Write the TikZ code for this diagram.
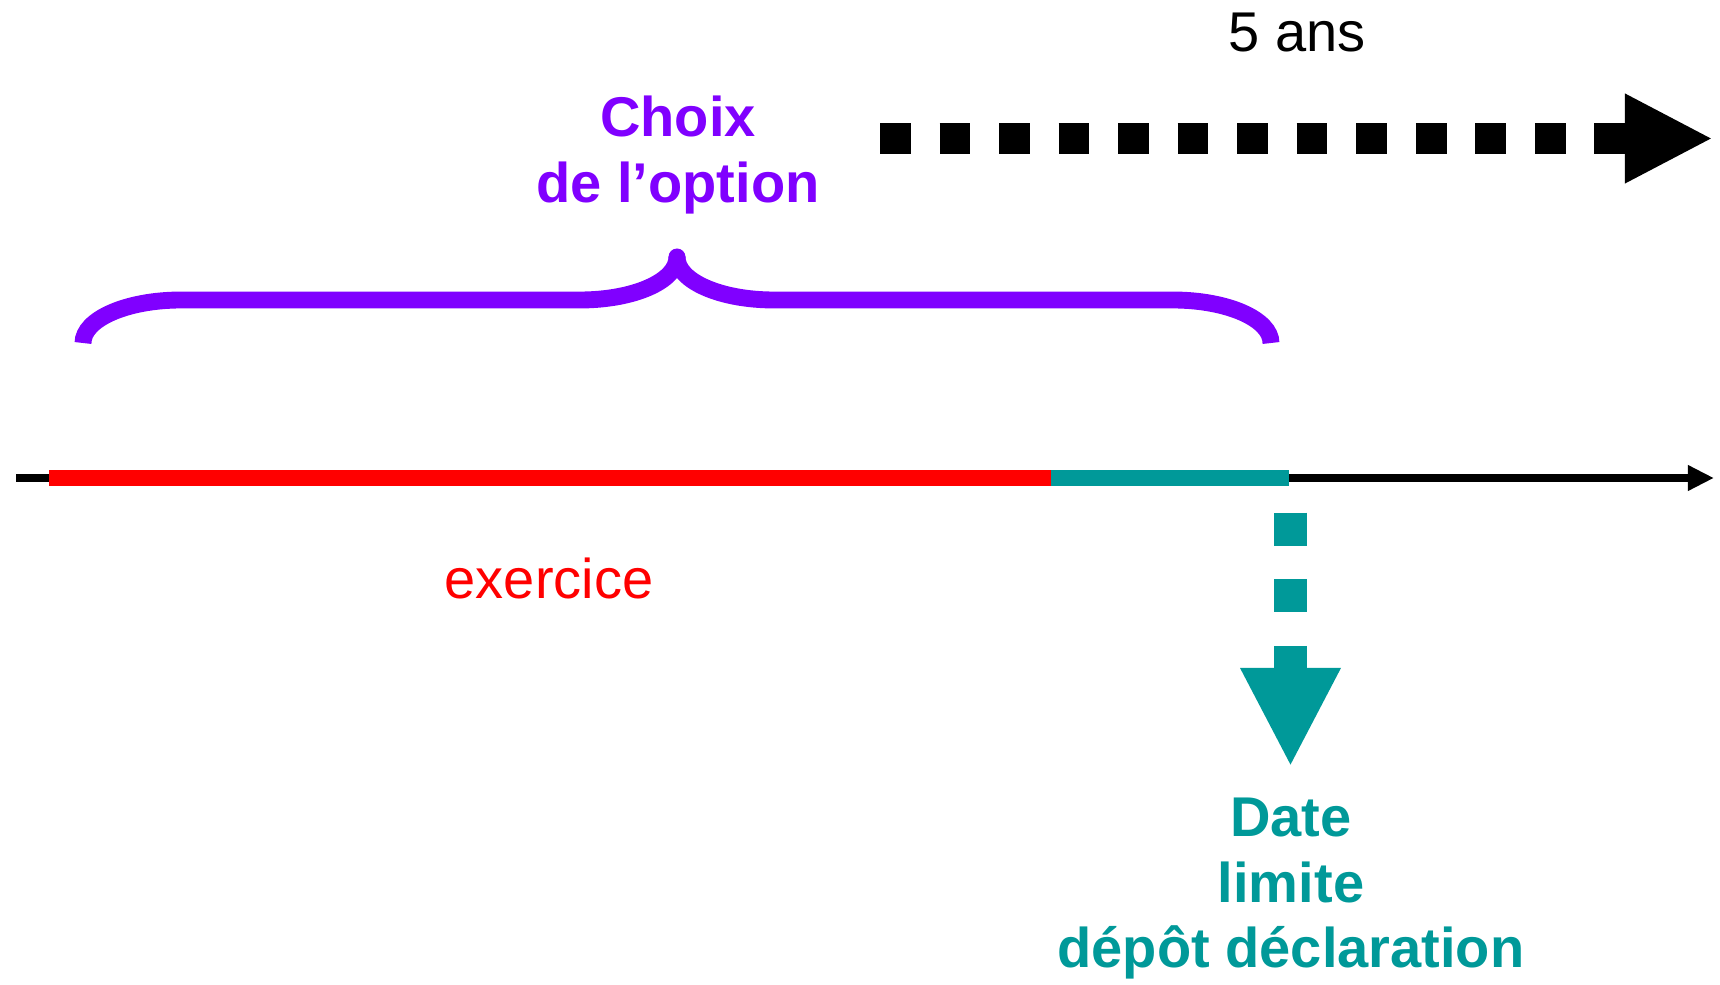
\documentclass[tikz,border=0pt]{standalone}
\usepackage{fontspec}
\setmainfont{Liberation Sans}
\usetikzlibrary{arrows.meta}
\definecolor{optpurple}{RGB}{128,0,255}
\definecolor{dlteal}{RGB}{0,153,153}
\definecolor{exred}{RGB}{255,0,0}
\begin{document}
\begin{tikzpicture}[x=0.01cm,y=-0.01cm,
  lbl/.style={inner sep=0pt,anchor=base,font=\fontsize{15.93pt}{18.7pt}\selectfont},
  boldlbl/.style={lbl,font=\fontsize{15.93pt}{18.7pt}\selectfont\bfseries},
  bracestroke/.style={draw=optpurple,line width=4.8pt,line cap=butt},
  axisline/.style={line width=2.28pt,-{Triangle[length=0.26cm,width=0.24cm]}},
  phase/.style={line width=4.8pt,line cap=butt}]
\useasboundingbox (0,0) rectangle (1720,985);

% time axis and its two phases
\coordinate (axstart) at (16,478);
\coordinate (axend) at (1714,478);
\coordinate (exstart) at (49,478);
\coordinate (exend) at (1051,478);
\coordinate (dlend) at (1289,478);
\draw[axisline] (axstart) -- (axend);
\draw[phase,exred] (exstart) -- (exend);
\draw[phase,dlteal] (exend) -- (dlend);

% labels
\node[lbl] (fiveyears) at (1297,52) {5 ans};
\node[boldlbl,text=optpurple] (choix1) at (678,137) {Choix};
\node[boldlbl,text=optpurple] (choix2) at (678,203) {de l’option};
\node[lbl,text=exred] (exlabel) at (549,598) {exercice};
\node[boldlbl,text=dlteal] (date1) at (1291,836) {Date};
\node[boldlbl,text=dlteal] (date2) at (1291,902) {limite};
\node[boldlbl,text=dlteal] (date3) at (1291,967) {dépôt déclaration};

% brace over the option period
\draw[bracestroke] (83,343) .. controls (83,319) and (127,300) .. (181,300)
  -- (580,300) .. controls (634,300) and (677,281) .. (677,257);
\draw[bracestroke] (1271,343) .. controls (1271,319) and (1227,300) .. (1173,300)
  -- (774,300) .. controls (720,300) and (677,281) .. (677,257);
\fill[optpurple] (677,257) circle[radius=8.5];

% five-year dotted arrow
\coordinate (fivestart) at (880,138.5);
\coordinate (fiveend) at (1713,138.5);
\draw[line width=8.75pt,dash pattern=on 0.307cm off 0.288cm,
  -{Triangle[length=0.88cm,width=0.83cm]}] (fivestart) -- (fiveend);

% deadline dotted arrow
\coordinate (dlstart) at (1290.5,512.7);
\coordinate (dltip) at (1290.5,767);
\draw[dlteal,line width=9.4pt,dash pattern=on 0.33cm off 0.335cm,
  -{Triangle[length=0.99cm,width=0.93cm]}] (dlstart) -- (dltip);
\end{tikzpicture}
\end{document}
